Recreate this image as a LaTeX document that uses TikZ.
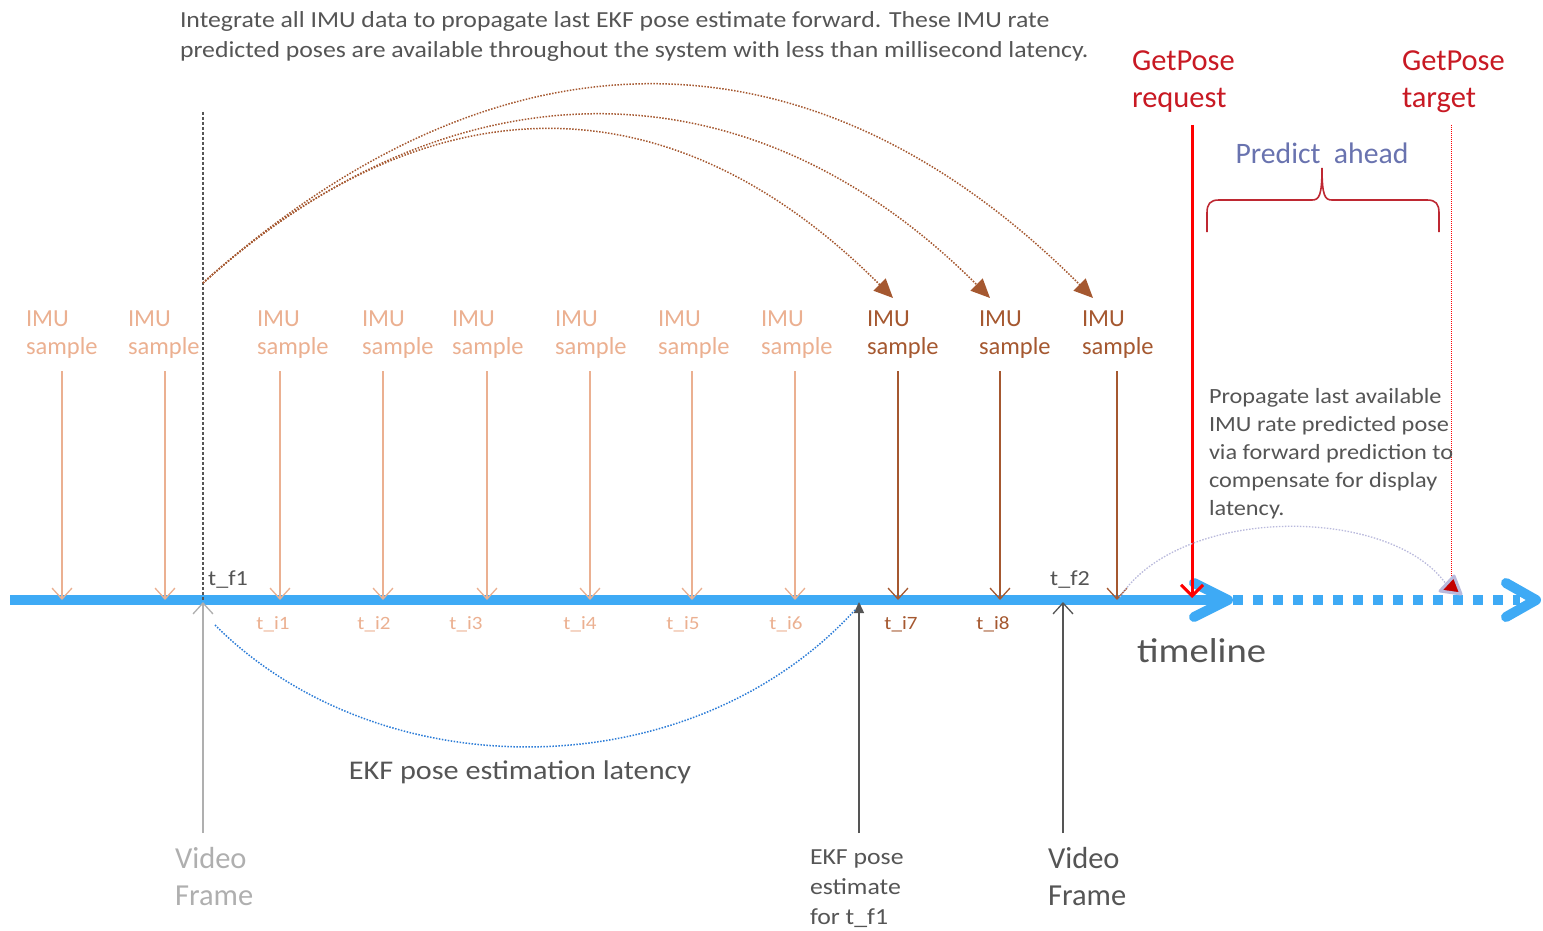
\documentclass[tikz,border=0pt]{standalone}
\usepackage{fontspec}
\setmainfont{Carlito}
\newfontfamily\widefont[FakeStretch=1.12]{Carlito}
\usetikzlibrary{arrows.meta}

\definecolor{imulight}{RGB}{235,176,145}
\definecolor{imudark}{RGB}{165,88,48}
\definecolor{tlblue}{RGB}{62,170,245}
\definecolor{txtgray}{RGB}{85,85,85}
\definecolor{palegray}{RGB}{175,175,175}
\definecolor{posered}{RGB}{200,25,35}
\definecolor{bracered}{RGB}{190,40,50}
\definecolor{predblue}{RGB}{105,115,175}
\definecolor{lavender}{RGB}{185,185,220}
\definecolor{latblue}{RGB}{45,125,215}
\definecolor{tipred}{RGB}{195,0,0}

\newcommand{\fsz}[2]{\fontsize{#1}{#2}\selectfont}

\tikzset{
  lbl/.style={inner sep=0pt, outer sep=0pt, anchor=west, align=left},
  imulabel/.style={lbl, font=\fsz{24.5}{28}},
  tilabel/.style={inner sep=0pt, font={\widefont\fsz{18.8}{20}}},
  tflabel/.style={inner sep=0pt, anchor=west, text=txtgray, font={\widefont\fsz{21.5}{24}}},
  imuarrow/.style={line width=1.3pt, -{Straight Barb[length=11pt,width=20pt]}},
  arcbrown/.style={draw=imudark, line width=1.5pt, dash pattern=on 1.5pt off 1.5pt,
                   -{Triangle[length=19pt,width=17pt]}},
  uparrow/.style={line width=1.3pt, -{Straight Barb[length=11pt,width=20pt]}},
}

\begin{document}
\begin{tikzpicture}[x=1pt,y=-1pt]
\useasboundingbox (0,0) rectangle (1543,931);

% ---------- caption at the top
\node[lbl, text=txtgray, font={\widefont\fsz{23}{30}}] (intro) at (180,36.5)
  {Integrate all IMU data to propagate last EKF pose estimate forward. These IMU rate\\
   predicted poses are available throughout the system with less than millisecond latency.};

% ---------- timeline
\coordinate (tl0) at (10,600);
\coordinate (tl1) at (1226,600);
\coordinate (tl2) at (1233,600);
\coordinate (tl3) at (1520,600);
\draw[tlblue, line width=10pt] (tl0) -- (tl1);
\draw[tlblue, line width=10pt, line cap=round, line join=round] (1194,583) -- (1228,600) -- (1194,617);
\draw[tlblue, line width=10pt, dash pattern=on 10pt off 10pt] (tl2) -- (tl3);
\draw[tlblue, line width=10pt, line cap=round, line join=round] (1506,583) -- (1536,600) -- (1506,617);
\node[inner sep=0pt, text=txtgray, font={\widefont\fsz{34.5}{38}}, anchor=west] (timeline) at (1137,651) {timeline};

% ---------- IMU samples
\foreach \i/\lx/\ax/\c in {1/26/62/imulight, 2/128/165/imulight, 3/257/280/imulight,
    4/362/383/imulight, 5/452/487/imulight, 6/555/590/imulight, 7/658/692/imulight,
    8/761/795/imulight, 9/867/898/imudark, 10/979/1000/imudark, 11/1082/1117/imudark}{
  \node[imulabel, text=\c] (lab\i) at (\lx,335) {IMU\\sample};
  \coordinate (top\i) at (\ax,371);
  \coordinate (hit\i) at (\ax,600);
  \draw[imuarrow, draw=\c] (top\i) -- (hit\i);
}

% ---------- IMU sample times
\foreach \n/\x/\c in {1/273/imulight, 2/374/imulight, 3/466/imulight, 4/580/imulight,
    5/683/imulight, 6/786/imulight, 7/901/imudark, 8/993/imudark}{
  \node[tilabel, text=\c] (ti\n) at (\x,624) {t\_i\n};
}

% ---------- video frame times
\node[tflabel] (tf1) at (208,580) {t\_f1};
\node[tflabel] (tf2) at (1050,580) {t\_f2};

% first video frame
\coordinate (vf1top) at (203,112);
\coordinate (vf1hit) at (203,600);
\coordinate (vf1bot) at (203,833);
\draw[txtgray, line width=1.2pt, dash pattern=on 3pt off 2pt] (vf1top) -- (vf1hit);
\draw[uparrow, draw=palegray] (vf1bot) -- (203,602);
\node[lbl, text=palegray, font=\fsz{30.5}{37}] (vf1) at (175,877) {Video\\Frame};

% EKF estimate
\coordinate (ekfbot) at (859,833);
\coordinate (ekfhit) at (859,602);
\draw[txtgray, line width=1.3pt, -{Triangle[length=11pt,width=10pt]}] (ekfbot) -- (ekfhit);
\node[lbl, text=txtgray, font={\widefont\fsz{23}{30}}] (ekf) at (810,889) {EKF pose\\estimate\\for t\_f1};

% second video frame
\coordinate (vf2bot) at (1063,833);
\coordinate (vf2hit) at (1063,602);
\draw[uparrow, draw=txtgray] (vf2bot) -- (vf2hit);
\node[lbl, text=txtgray, font=\fsz{30.5}{37}] (vf2) at (1048,877) {Video\\Frame};

% EKF latency arc
\coordinate (latA) at (215,625);
\coordinate (latB) at (855,610);
\draw[latblue, line width=1.5pt, dash pattern=on 1.5pt off 1.5pt]
  (latA) .. controls (380,790) and (690,790) .. (latB);
\node[inner sep=0pt, text=txtgray, font={\widefont\fsz{27}{30}}] (latency) at (520,772) {EKF pose estimation latency};

% ---------- IMU propagation arcs
\coordinate (src) at (203,283);
\coordinate (e9) at (893,298);
\coordinate (e10) at (990,298);
\coordinate (e11) at (1093,298);
\draw[arcbrown] (src) .. controls (428,80) and (668,73) .. (e9);
\draw[arcbrown] (src) .. controls (449,62) and (744,52) .. (e10);
\draw[arcbrown] (src) .. controls (491,24) and (805,10) .. (e11);

% ---------- GetPose request / target
\node[lbl, text=posered, font=\fsz{30.5}{37}] (req) at (1132,81.5) {GetPose\\request};
\node[lbl, text=posered, font=\fsz{30.5}{37}] (tgt) at (1402,81.5) {GetPose\\target};

\coordinate (reqtop) at (1192,125);
\coordinate (reqhit) at (1192,598);
\draw[red, line width=3pt, -{Straight Barb[length=11pt,width=22pt]}] (reqtop) -- (reqhit);

\coordinate (tgttop) at (1451,125);
\coordinate (tgthit) at (1451,578);
\draw[red, line width=1pt, dash pattern=on 1pt off 1pt] (tgttop) -- (tgthit);

% predict ahead brace
\draw[bracered, line width=1.6pt]
  (1207,232) -- (1207,213) .. controls (1207,204) and (1210,200) .. (1219,200)
  -- (1312,200) .. controls (1319,200) and (1322,196) .. (1322,168)
  .. controls (1322,196) and (1325,200) .. (1332,200)
  -- (1427,200) .. controls (1436,200) and (1439,204) .. (1439,213) -- (1439,232);
\node[inner sep=0pt, text=predblue, font=\fsz{29.7}{32}] (predict) at (1322,153) {Predict\ \ ahead};

% forward prediction note
\node[lbl, text=txtgray, font={\widefont\fsz{21.7}{28.1}}] (note) at (1209,453.5)
  {Propagate last available\\IMU rate predicted pose\\via forward prediction to\\compensate for display\\latency.};

% forward prediction arc, ending on the target marker
\coordinate (fpA) at (1120,597);
\coordinate (fpB) at (1446,584);
\draw[lavender, line width=1.3pt, dash pattern=on 1.5pt off 1.5pt]
  (fpA) .. controls (1180,505) and (1390,505) .. (fpB);
\filldraw[fill=tipred, draw=lavender, line width=3pt, line join=round]
  (1440,591) -- (1461,594) -- (1454,576) -- cycle;

\end{tikzpicture}
\end{document}
